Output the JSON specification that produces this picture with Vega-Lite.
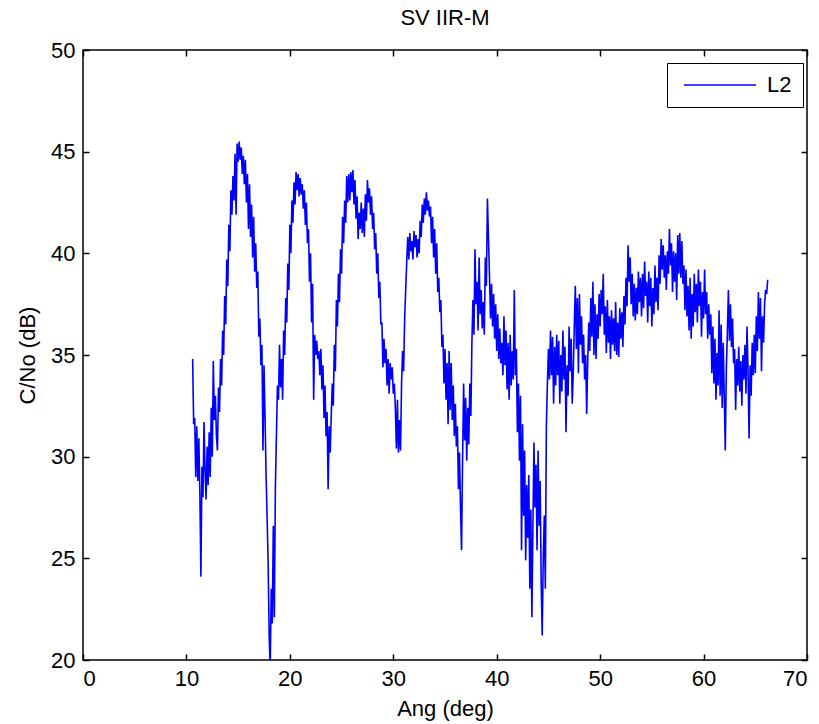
{
"$schema":"https://vega.github.io/schema/vega-lite/v6.json",
"width":724,"height":610,
"autosize":{"type":"none"},
"padding":{"left":83,"top":50,"right":12,"bottom":64},
"background":"white",
"title":{"text":"SV IIR-M","fontSize":22,"fontWeight":"normal","font":"Liberation Sans","color":"black","frame":"group","offset":9},
"config":{"view":{"stroke":"black","strokeWidth":1.5},"font":"Liberation Sans",
"axis":{"grid":false,"domain":false,"tickColor":"black","tickSize":-6,"tickWidth":1.5,"labelFont":"Liberation Sans","labelFontSize":22,"labelColor":"black","titleFont":"Liberation Sans","titleFontSize":22,"titleFontWeight":"normal","titleColor":"black"}},
"data":{"values":[
{"ang":10.6,"cno":34.8},{"ang":10.7,"cno":31.6},{"ang":10.8,"cno":31.9},{"ang":10.9,"cno":29.0},{"ang":11.0,"cno":31.5},{"ang":11.1,"cno":28.8},{"ang":11.2,"cno":30.9},{"ang":11.3,"cno":28.2},{"ang":11.4,"cno":24.1},{"ang":11.5,"cno":29.5},
{"ang":11.6,"cno":28.0},{"ang":11.7,"cno":31.7},{"ang":11.8,"cno":29.3},{"ang":11.9,"cno":27.9},{"ang":12.0,"cno":30.5},{"ang":12.1,"cno":28.6},{"ang":12.2,"cno":31.2},{"ang":12.3,"cno":29.0},{"ang":12.4,"cno":32.4},{"ang":12.5,"cno":30.0},
{"ang":12.6,"cno":34.7},{"ang":12.7,"cno":31.8},{"ang":12.8,"cno":33.0},{"ang":12.9,"cno":31.0},{"ang":13.0,"cno":30.3},{"ang":13.1,"cno":33.4},{"ang":13.2,"cno":32.2},{"ang":13.3,"cno":34.8},{"ang":13.4,"cno":33.5},{"ang":13.5,"cno":36.2},
{"ang":13.6,"cno":35.0},{"ang":13.7,"cno":37.9},{"ang":13.8,"cno":36.5},{"ang":13.9,"cno":39.7},{"ang":14.0,"cno":38.4},{"ang":14.1,"cno":41.4},{"ang":14.2,"cno":40.1},{"ang":14.3,"cno":43.1},{"ang":14.4,"cno":41.9},{"ang":14.5,"cno":43.8},
{"ang":14.6,"cno":42.6},{"ang":14.7,"cno":44.9},{"ang":14.8,"cno":41.9},{"ang":14.9,"cno":45.4},{"ang":15.0,"cno":44.5},{"ang":15.1,"cno":45.5},{"ang":15.2,"cno":44.6},{"ang":15.3,"cno":45.2},{"ang":15.4,"cno":43.9},{"ang":15.5,"cno":44.8},
{"ang":15.6,"cno":43.4},{"ang":15.7,"cno":44.6},{"ang":15.8,"cno":42.5},{"ang":15.9,"cno":43.9},{"ang":16.0,"cno":41.2},{"ang":16.1,"cno":43.4},{"ang":16.2,"cno":40.8},{"ang":16.3,"cno":42.4},{"ang":16.4,"cno":39.8},{"ang":16.5,"cno":41.8},
{"ang":16.6,"cno":39.1},{"ang":16.7,"cno":40.5},{"ang":16.8,"cno":38.3},{"ang":16.9,"cno":39.1},{"ang":17.0,"cno":35.9},{"ang":17.1,"cno":36.8},{"ang":17.2,"cno":34.5},{"ang":17.3,"cno":35.5},{"ang":17.4,"cno":30.3},{"ang":17.5,"cno":34.5},
{"ang":17.6,"cno":32.0},{"ang":17.7,"cno":29.1},{"ang":17.8,"cno":27.0},{"ang":17.9,"cno":24.8},{"ang":18.0,"cno":21.2},{"ang":18.1,"cno":19.6},{"ang":18.2,"cno":23.5},{"ang":18.3,"cno":21.8},{"ang":18.4,"cno":26.6},{"ang":18.5,"cno":22.1},
{"ang":18.6,"cno":28.5},{"ang":18.7,"cno":31.0},{"ang":18.8,"cno":33.5},{"ang":18.9,"cno":32.8},{"ang":19.0,"cno":35.5},{"ang":19.1,"cno":33.4},{"ang":19.2,"cno":34.8},{"ang":19.3,"cno":32.8},{"ang":19.4,"cno":36.2},{"ang":19.5,"cno":35.0},
{"ang":19.6,"cno":37.8},{"ang":19.7,"cno":36.6},{"ang":19.8,"cno":39.5},{"ang":19.9,"cno":38.2},{"ang":20.0,"cno":41.4},{"ang":20.1,"cno":40.0},{"ang":20.2,"cno":42.6},{"ang":20.3,"cno":41.5},{"ang":20.4,"cno":43.5},{"ang":20.5,"cno":42.4},
{"ang":20.6,"cno":44.0},{"ang":20.7,"cno":43.1},{"ang":20.8,"cno":43.9},{"ang":20.9,"cno":42.8},{"ang":21.0,"cno":43.7},{"ang":21.1,"cno":42.9},{"ang":21.2,"cno":43.4},{"ang":21.3,"cno":42.2},{"ang":21.4,"cno":43.1},{"ang":21.5,"cno":41.4},
{"ang":21.6,"cno":42.5},{"ang":21.7,"cno":40.5},{"ang":21.8,"cno":41.2},{"ang":21.9,"cno":38.6},{"ang":22.0,"cno":40.0},{"ang":22.1,"cno":36.6},{"ang":22.2,"cno":38.5},{"ang":22.3,"cno":32.8},{"ang":22.4,"cno":36.0},{"ang":22.5,"cno":35.0},
{"ang":22.6,"cno":35.7},{"ang":22.7,"cno":34.8},{"ang":22.8,"cno":35.2},{"ang":22.9,"cno":34.0},{"ang":23.0,"cno":35.3},{"ang":23.1,"cno":33.3},{"ang":23.2,"cno":34.5},{"ang":23.3,"cno":31.9},{"ang":23.4,"cno":33.5},{"ang":23.5,"cno":31.0},
{"ang":23.6,"cno":32.2},{"ang":23.7,"cno":28.4},{"ang":23.8,"cno":31.5},{"ang":23.9,"cno":30.2},{"ang":24.0,"cno":32.0},{"ang":24.1,"cno":33.6},{"ang":24.2,"cno":32.5},{"ang":24.3,"cno":35.5},{"ang":24.4,"cno":34.2},{"ang":24.5,"cno":37.7},
{"ang":24.6,"cno":36.4},{"ang":24.7,"cno":39.0},{"ang":24.8,"cno":37.6},{"ang":24.9,"cno":40.2},{"ang":25.0,"cno":39.0},{"ang":25.1,"cno":41.8},{"ang":25.2,"cno":40.5},{"ang":25.3,"cno":42.6},{"ang":25.4,"cno":41.5},{"ang":25.5,"cno":43.8},
{"ang":25.6,"cno":42.5},{"ang":25.7,"cno":43.9},{"ang":25.8,"cno":42.6},{"ang":25.9,"cno":44.0},{"ang":26.0,"cno":43.0},{"ang":26.1,"cno":44.1},{"ang":26.2,"cno":42.4},{"ang":26.3,"cno":43.6},{"ang":26.4,"cno":41.7},{"ang":26.5,"cno":42.8},
{"ang":26.6,"cno":40.7},{"ang":26.7,"cno":42.0},{"ang":26.8,"cno":41.2},{"ang":26.9,"cno":42.5},{"ang":27.0,"cno":41.0},{"ang":27.1,"cno":42.2},{"ang":27.2,"cno":40.8},{"ang":27.3,"cno":42.9},{"ang":27.4,"cno":41.6},{"ang":27.5,"cno":43.6},
{"ang":27.6,"cno":42.5},{"ang":27.7,"cno":43.2},{"ang":27.8,"cno":41.9},{"ang":27.9,"cno":42.8},{"ang":28.0,"cno":41.2},{"ang":28.1,"cno":42.0},{"ang":28.2,"cno":40.2},{"ang":28.3,"cno":41.0},{"ang":28.4,"cno":39.0},{"ang":28.5,"cno":40.0},
{"ang":28.6,"cno":37.8},{"ang":28.7,"cno":38.6},{"ang":28.8,"cno":36.5},{"ang":28.9,"cno":36.6},{"ang":29.0,"cno":34.4},{"ang":29.1,"cno":35.8},{"ang":29.2,"cno":34.6},{"ang":29.3,"cno":35.3},{"ang":29.4,"cno":33.5},{"ang":29.5,"cno":34.8},
{"ang":29.6,"cno":33.1},{"ang":29.7,"cno":34.6},{"ang":29.8,"cno":33.8},{"ang":29.9,"cno":34.4},{"ang":30.0,"cno":33.1},{"ang":30.1,"cno":33.6},{"ang":30.2,"cno":32.4},{"ang":30.3,"cno":30.4},{"ang":30.4,"cno":32.8},{"ang":30.5,"cno":30.2},
{"ang":30.6,"cno":31.8},{"ang":30.7,"cno":30.3},{"ang":30.8,"cno":33.6},{"ang":30.9,"cno":35.2},{"ang":31.0,"cno":34.2},{"ang":31.1,"cno":36.8},{"ang":31.2,"cno":38.2},{"ang":31.3,"cno":39.6},{"ang":31.4,"cno":40.8},{"ang":31.5,"cno":39.7},
{"ang":31.6,"cno":41.0},{"ang":31.7,"cno":40.1},{"ang":31.8,"cno":40.6},{"ang":31.9,"cno":39.7},{"ang":32.0,"cno":41.1},{"ang":32.1,"cno":40.3},{"ang":32.2,"cno":40.9},{"ang":32.3,"cno":39.8},{"ang":32.4,"cno":40.7},{"ang":32.5,"cno":40.0},
{"ang":32.6,"cno":41.6},{"ang":32.7,"cno":40.8},{"ang":32.8,"cno":42.4},{"ang":32.9,"cno":41.5},{"ang":33.0,"cno":42.7},{"ang":33.1,"cno":41.9},{"ang":33.2,"cno":43.0},{"ang":33.3,"cno":42.1},{"ang":33.4,"cno":42.6},{"ang":33.5,"cno":41.8},
{"ang":33.6,"cno":42.3},{"ang":33.7,"cno":40.5},{"ang":33.8,"cno":41.8},{"ang":33.9,"cno":39.8},{"ang":34.0,"cno":41.2},{"ang":34.1,"cno":39.0},{"ang":34.2,"cno":40.5},{"ang":34.3,"cno":38.1},{"ang":34.4,"cno":38.8},{"ang":34.5,"cno":37.1},
{"ang":34.6,"cno":37.7},{"ang":34.7,"cno":35.4},{"ang":34.8,"cno":36.0},{"ang":34.9,"cno":33.6},{"ang":35.0,"cno":35.3},{"ang":35.1,"cno":32.8},{"ang":35.2,"cno":34.6},{"ang":35.3,"cno":31.6},{"ang":35.4,"cno":35.2},{"ang":35.5,"cno":32.3},
{"ang":35.6,"cno":34.6},{"ang":35.7,"cno":31.8},{"ang":35.8,"cno":33.5},{"ang":35.9,"cno":31.0},{"ang":36.0,"cno":32.6},{"ang":36.1,"cno":30.5},{"ang":36.2,"cno":31.5},{"ang":36.3,"cno":28.4},{"ang":36.4,"cno":30.2},{"ang":36.5,"cno":27.5},
{"ang":36.6,"cno":25.4},{"ang":36.7,"cno":29.9},{"ang":36.8,"cno":33.6},{"ang":36.9,"cno":30.8},{"ang":37.0,"cno":32.9},{"ang":37.1,"cno":29.8},{"ang":37.2,"cno":32.4},{"ang":37.3,"cno":30.6},{"ang":37.4,"cno":33.6},{"ang":37.5,"cno":32.0},
{"ang":37.6,"cno":35.6},{"ang":37.7,"cno":37.7},{"ang":37.8,"cno":36.0},{"ang":37.9,"cno":40.2},{"ang":38.0,"cno":37.5},{"ang":38.1,"cno":38.6},{"ang":38.2,"cno":36.2},{"ang":38.3,"cno":39.8},{"ang":38.4,"cno":37.0},{"ang":38.5,"cno":38.2},
{"ang":38.6,"cno":36.3},{"ang":38.7,"cno":37.6},{"ang":38.8,"cno":36.0},{"ang":38.9,"cno":39.8},{"ang":39.0,"cno":38.4},{"ang":39.1,"cno":42.7},{"ang":39.2,"cno":40.8},{"ang":39.3,"cno":38.9},{"ang":39.4,"cno":36.8},{"ang":39.5,"cno":38.5},
{"ang":39.6,"cno":36.4},{"ang":39.7,"cno":38.0},{"ang":39.8,"cno":35.8},{"ang":39.9,"cno":37.5},{"ang":40.0,"cno":35.2},{"ang":40.1,"cno":37.0},{"ang":40.2,"cno":34.8},{"ang":40.3,"cno":36.3},{"ang":40.4,"cno":34.6},{"ang":40.5,"cno":35.6},
{"ang":40.6,"cno":34.0},{"ang":40.7,"cno":36.9},{"ang":40.8,"cno":34.5},{"ang":40.9,"cno":36.2},{"ang":41.0,"cno":33.3},{"ang":41.1,"cno":35.6},{"ang":41.2,"cno":32.8},{"ang":41.3,"cno":36.0},{"ang":41.4,"cno":33.5},{"ang":41.5,"cno":35.2},
{"ang":41.6,"cno":33.8},{"ang":41.7,"cno":38.2},{"ang":41.8,"cno":34.0},{"ang":41.9,"cno":35.3},{"ang":42.0,"cno":31.2},{"ang":42.1,"cno":33.6},{"ang":42.2,"cno":29.8},{"ang":42.3,"cno":33.0},{"ang":42.4,"cno":25.4},{"ang":42.5,"cno":31.6},
{"ang":42.6,"cno":27.1},{"ang":42.7,"cno":30.3},{"ang":42.8,"cno":24.9},{"ang":42.9,"cno":28.6},{"ang":43.0,"cno":26.0},{"ang":43.1,"cno":29.1},{"ang":43.2,"cno":23.5},{"ang":43.3,"cno":27.4},{"ang":43.4,"cno":22.1},{"ang":43.5,"cno":26.5},
{"ang":43.6,"cno":30.7},{"ang":43.7,"cno":27.5},{"ang":43.8,"cno":29.6},{"ang":43.9,"cno":25.4},{"ang":44.0,"cno":30.3},{"ang":44.1,"cno":26.6},{"ang":44.2,"cno":28.8},{"ang":44.3,"cno":23.8},{"ang":44.4,"cno":21.2},{"ang":44.5,"cno":25.1},
{"ang":44.6,"cno":27.1},{"ang":44.7,"cno":23.5},{"ang":44.8,"cno":31.5},{"ang":44.9,"cno":33.6},{"ang":45.0,"cno":35.3},{"ang":45.1,"cno":33.8},{"ang":45.2,"cno":36.2},{"ang":45.3,"cno":34.0},{"ang":45.4,"cno":35.9},{"ang":45.5,"cno":32.6},
{"ang":45.6,"cno":35.4},{"ang":45.7,"cno":33.5},{"ang":45.8,"cno":36.0},{"ang":45.9,"cno":34.0},{"ang":46.0,"cno":35.7},{"ang":46.1,"cno":32.6},{"ang":46.2,"cno":35.0},{"ang":46.3,"cno":33.2},{"ang":46.4,"cno":36.2},{"ang":46.5,"cno":33.8},
{"ang":46.6,"cno":35.4},{"ang":46.7,"cno":31.2},{"ang":46.8,"cno":34.5},{"ang":46.9,"cno":33.0},{"ang":47.0,"cno":36.4},{"ang":47.1,"cno":34.2},{"ang":47.2,"cno":35.8},{"ang":47.3,"cno":32.6},{"ang":47.4,"cno":34.1},{"ang":47.5,"cno":36.4},
{"ang":47.6,"cno":38.4},{"ang":47.7,"cno":35.3},{"ang":47.8,"cno":37.8},{"ang":47.9,"cno":34.1},{"ang":48.0,"cno":38.0},{"ang":48.1,"cno":35.5},{"ang":48.2,"cno":36.9},{"ang":48.3,"cno":34.6},{"ang":48.4,"cno":36.0},{"ang":48.5,"cno":33.8},
{"ang":48.6,"cno":35.0},{"ang":48.7,"cno":32.1},{"ang":48.8,"cno":34.7},{"ang":48.9,"cno":36.6},{"ang":49.0,"cno":35.2},{"ang":49.1,"cno":37.8},{"ang":49.2,"cno":35.9},{"ang":49.3,"cno":38.6},{"ang":49.4,"cno":35.0},{"ang":49.5,"cno":37.5},
{"ang":49.6,"cno":34.8},{"ang":49.7,"cno":37.0},{"ang":49.8,"cno":35.8},{"ang":49.9,"cno":38.0},{"ang":50.0,"cno":36.4},{"ang":50.1,"cno":38.2},{"ang":50.2,"cno":37.0},{"ang":50.3,"cno":39.0},{"ang":50.4,"cno":36.0},{"ang":50.5,"cno":37.4},
{"ang":50.6,"cno":35.1},{"ang":50.7,"cno":37.7},{"ang":50.8,"cno":35.6},{"ang":50.9,"cno":36.9},{"ang":51.0,"cno":34.8},{"ang":51.1,"cno":37.2},{"ang":51.2,"cno":35.5},{"ang":51.3,"cno":36.8},{"ang":51.4,"cno":35.2},{"ang":51.5,"cno":37.6},
{"ang":51.6,"cno":35.0},{"ang":51.7,"cno":36.6},{"ang":51.8,"cno":34.9},{"ang":51.9,"cno":37.3},{"ang":52.0,"cno":35.8},{"ang":52.1,"cno":37.1},{"ang":52.2,"cno":35.4},{"ang":52.3,"cno":37.9},{"ang":52.4,"cno":36.5},{"ang":52.5,"cno":38.8},
{"ang":52.6,"cno":37.4},{"ang":52.7,"cno":40.4},{"ang":52.8,"cno":38.6},{"ang":52.9,"cno":39.8},{"ang":53.0,"cno":37.5},{"ang":53.1,"cno":39.0},{"ang":53.2,"cno":36.9},{"ang":53.3,"cno":38.5},{"ang":53.4,"cno":36.7},{"ang":53.5,"cno":38.3},
{"ang":53.6,"cno":37.0},{"ang":53.7,"cno":39.1},{"ang":53.8,"cno":37.6},{"ang":53.9,"cno":38.8},{"ang":54.0,"cno":36.9},{"ang":54.1,"cno":39.0},{"ang":54.2,"cno":37.3},{"ang":54.3,"cno":39.6},{"ang":54.4,"cno":37.9},{"ang":54.5,"cno":38.6},
{"ang":54.6,"cno":36.6},{"ang":54.7,"cno":39.1},{"ang":54.8,"cno":37.4},{"ang":54.9,"cno":38.8},{"ang":55.0,"cno":36.4},{"ang":55.1,"cno":38.3},{"ang":55.2,"cno":37.0},{"ang":55.3,"cno":39.4},{"ang":55.4,"cno":37.6},{"ang":55.5,"cno":38.8},
{"ang":55.6,"cno":37.2},{"ang":55.7,"cno":39.9},{"ang":55.8,"cno":38.5},{"ang":55.9,"cno":40.7},{"ang":56.0,"cno":39.2},{"ang":56.1,"cno":40.4},{"ang":56.2,"cno":38.8},{"ang":56.3,"cno":39.9},{"ang":56.4,"cno":38.2},{"ang":56.5,"cno":40.1},
{"ang":56.6,"cno":39.0},{"ang":56.7,"cno":41.2},{"ang":56.8,"cno":39.4},{"ang":56.9,"cno":40.5},{"ang":57.0,"cno":38.1},{"ang":57.1,"cno":40.1},{"ang":57.2,"cno":38.6},{"ang":57.3,"cno":40.0},{"ang":57.4,"cno":37.7},{"ang":57.5,"cno":40.9},
{"ang":57.6,"cno":39.0},{"ang":57.7,"cno":41.0},{"ang":57.8,"cno":38.8},{"ang":57.9,"cno":40.6},{"ang":58.0,"cno":38.5},{"ang":58.1,"cno":39.4},{"ang":58.2,"cno":37.2},{"ang":58.3,"cno":39.2},{"ang":58.4,"cno":36.9},{"ang":58.5,"cno":38.4},
{"ang":58.6,"cno":36.2},{"ang":58.7,"cno":38.8},{"ang":58.8,"cno":35.8},{"ang":58.9,"cno":38.0},{"ang":59.0,"cno":36.4},{"ang":59.1,"cno":39.0},{"ang":59.2,"cno":37.1},{"ang":59.3,"cno":38.5},{"ang":59.4,"cno":36.6},{"ang":59.5,"cno":39.2},
{"ang":59.6,"cno":37.4},{"ang":59.7,"cno":38.6},{"ang":59.8,"cno":35.9},{"ang":59.9,"cno":38.1},{"ang":60.0,"cno":36.8},{"ang":60.1,"cno":39.2},{"ang":60.2,"cno":37.0},{"ang":60.3,"cno":38.1},{"ang":60.4,"cno":35.8},{"ang":60.5,"cno":37.5},
{"ang":60.6,"cno":36.0},{"ang":60.7,"cno":37.0},{"ang":60.8,"cno":34.1},{"ang":60.9,"cno":36.4},{"ang":61.0,"cno":33.6},{"ang":61.1,"cno":35.8},{"ang":61.2,"cno":32.8},{"ang":61.3,"cno":35.1},{"ang":61.4,"cno":33.5},{"ang":61.5,"cno":37.2},
{"ang":61.6,"cno":33.0},{"ang":61.7,"cno":36.5},{"ang":61.8,"cno":32.4},{"ang":61.9,"cno":35.6},{"ang":62.0,"cno":33.0},{"ang":62.1,"cno":30.3},{"ang":62.2,"cno":34.3},{"ang":62.3,"cno":36.1},{"ang":62.4,"cno":38.2},{"ang":62.5,"cno":35.7},
{"ang":62.6,"cno":37.5},{"ang":62.7,"cno":35.4},{"ang":62.8,"cno":36.8},{"ang":62.9,"cno":34.6},{"ang":63.0,"cno":35.3},{"ang":63.1,"cno":32.3},{"ang":63.2,"cno":34.8},{"ang":63.3,"cno":33.5},{"ang":63.4,"cno":35.4},{"ang":63.5,"cno":33.2},
{"ang":63.6,"cno":34.7},{"ang":63.7,"cno":32.5},{"ang":63.8,"cno":35.0},{"ang":63.9,"cno":33.8},{"ang":64.0,"cno":35.5},{"ang":64.1,"cno":33.1},{"ang":64.2,"cno":36.4},{"ang":64.3,"cno":34.2},{"ang":64.4,"cno":30.9},{"ang":64.5,"cno":34.5},
{"ang":64.6,"cno":33.0},{"ang":64.7,"cno":35.6},{"ang":64.8,"cno":34.0},{"ang":64.9,"cno":36.0},{"ang":65.0,"cno":34.1},{"ang":65.1,"cno":36.9},{"ang":65.2,"cno":35.2},{"ang":65.3,"cno":38.1},{"ang":65.4,"cno":35.8},{"ang":65.5,"cno":37.8},
{"ang":65.6,"cno":34.2},{"ang":65.7,"cno":36.9},{"ang":65.8,"cno":35.6},{"ang":65.9,"cno":37.5},{"ang":66.0,"cno":38.2},{"ang":66.1,"cno":38.0},{"ang":66.2,"cno":38.7}
]},
"layer":[
{"mark":{"type":"line","color":"#0000ff","strokeWidth":1.6,"clip":true},
"encoding":{
"x":{"field":"ang","type":"quantitative","scale":{"domain":[0,70],"nice":false,"zero":false},"axis":{"title":"Ang (deg)","values":[0,10,20,30,40,50,60,70],"labelPadding":14,"titlePadding":9}},
"y":{"field":"cno","type":"quantitative","scale":{"domain":[20,50],"nice":false,"zero":false},"axis":{"title":"C/No (dB)","values":[20,25,30,35,40,45,50],"labelPadding":14,"titlePadding":11}},
"color":{"datum":"L2","type":"nominal","scale":{"range":["#0000ff"]},"legend":{"title":null,"orient":"none","legendX":584,"legendY":13,"strokeColor":"black","fillColor":"white","padding":11,"symbolType":"M-1,0H7","symbolSize":324,"symbolOffset":4,"symbolStrokeWidth":1.5,"symbolFillColor":"transparent","labelFontSize":22,"labelFont":"Liberation Sans","labelColor":"black","labelOffset":63}}}},
{"mark":{"type":"line","opacity":0},
"encoding":{
"x":{"field":"ang","type":"quantitative","axis":{"orient":"top","labels":false,"title":null,"minExtent":0,"maxExtent":0,"values":[0,10,20,30,40,50,60,70]}},
"y":{"field":"cno","type":"quantitative","axis":{"orient":"right","labels":false,"title":null,"minExtent":0,"maxExtent":0,"values":[20,25,30,35,40,45,50]}}}}
],
"resolve":{"axis":{"x":"independent","y":"independent"}}
}
